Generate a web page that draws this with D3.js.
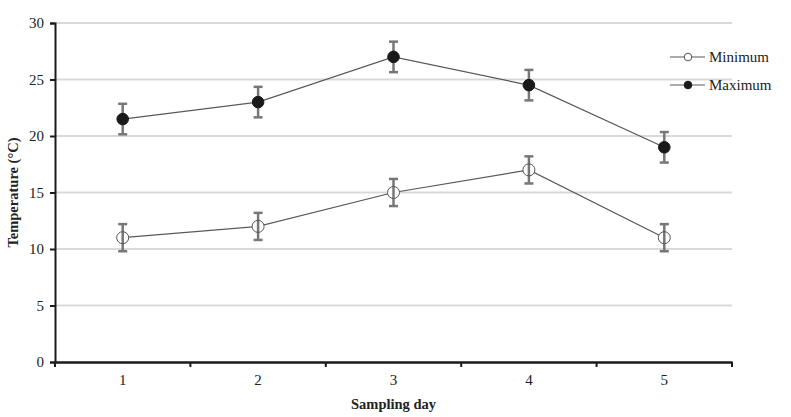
<!DOCTYPE html>
<html><head><meta charset="utf-8">
<script src="https://cdn.jsdelivr.net/npm/d3@7"></script>
<style>body{margin:0;background:#fff}svg{display:block}</style>
</head><body>
<svg id="c" width="791" height="417"></svg>
<script>
const days = ["1","2","3","4","5"];
const minimum = [11, 12, 15, 17, 11];
const minimumErr = [1.2, 1.2, 1.2, 1.2, 1.2];
const maximum = [21.5, 23, 27, 24.5, 19];
const maximumErr = [1.35, 1.35, 1.35, 1.35, 1.35];
const yTicks = [0, 5, 10, 15, 20, 25, 30];
const seriesNames = ["Minimum", "Maximum"];

const svg = d3.select("#c");
const font = "'Liberation Serif','Times New Roman',serif";
const m = {l:55, r:732, t:23, b:362};
const x = d3.scaleBand().domain(days).range([m.l, m.r]);
const y = d3.scaleLinear().domain([0,30]).range([m.b, m.t]);

// grid
svg.append("g").selectAll("line").data(yTicks.filter(d=>d>0)).join("line")
  .attr("x1", m.l).attr("x2", m.r).attr("y1", d=>y(d)).attr("y2", d=>y(d))
  .attr("stroke", "#d9d9d9").attr("stroke-width", 2);

// y axis
const ya = svg.append("g").attr("transform", `translate(${m.l},0)`)
  .call(d3.axisLeft(y).tickValues(yTicks).tickSize(5).tickPadding(6));
ya.select(".domain").attr("stroke","#1a1a1a").attr("stroke-width",2);
ya.selectAll(".tick line").attr("stroke","#1a1a1a").attr("stroke-width",2);
ya.selectAll("text").attr("font-family",font).attr("font-size",15).attr("fill","#222");

// x axis
const xa = svg.append("g").attr("transform", `translate(0,${m.b})`)
  .call(d3.axisBottom(x).tickSize(0).tickPadding(12));
xa.select(".domain").attr("stroke","#1a1a1a").attr("stroke-width",2.5);
xa.selectAll("text").attr("font-family",font).attr("font-size",15).attr("fill","#222");
const bounds = days.map(d=>x(d)).concat([x(days[days.length-1])+x.bandwidth()]);
xa.selectAll("line.b").data(bounds).join("line").attr("class","b")
  .attr("x1",d=>d).attr("x2",d=>d).attr("y1",0).attr("y2",5)
  .attr("stroke","#1a1a1a").attr("stroke-width",2);

const cx = d => x(d) + x.bandwidth()/2;
const series = [
  {vals: minimum, err: minimumErr, open: true},
  {vals: maximum, err: maximumErr, open: false}
];
series.forEach(s => {
  const g = svg.append("g");
  g.append("path").datum(days)
    .attr("d", d3.line().x(d=>cx(d)).y((d,i)=>y(s.vals[i])))
    .attr("fill","none").attr("stroke","#595959").attr("stroke-width",1.2);
  days.forEach((d,i) => {
    const cy = y(s.vals[i]);
    const lo = y(s.vals[i]-s.err[i]), hi = y(s.vals[i]+s.err[i]);
    if (s.open) g.append("circle").attr("cx",cx(d)).attr("cy",cy).attr("r",6).attr("fill","#fff");
    g.append("line").attr("x1",cx(d)).attr("x2",cx(d)).attr("y1",lo).attr("y2",hi)
      .attr("stroke","#777").attr("stroke-width",2.5);
    [lo,hi].forEach(v => g.append("line").attr("x1",cx(d)-4.5).attr("x2",cx(d)+4.5)
      .attr("y1",v).attr("y2",v).attr("stroke","#777").attr("stroke-width",2.5));
    g.append("circle").attr("cx",cx(d)).attr("cy",cy).attr("r",s.open?6:5.8)
      .attr("fill", s.open ? "none" : "#1a1a1a")
      .attr("stroke", s.open ? "#555" : "#1a1a1a").attr("stroke-width",1);
  });
});

// legend
const lg = svg.append("g");
seriesNames.forEach((n,i) => {
  const ly = 57 + i*28;
  lg.append("line").attr("x1",670).attr("x2",705).attr("y1",ly).attr("y2",ly)
    .attr("stroke","#595959").attr("stroke-width",1.2);
  lg.append("circle").attr("cx",688).attr("cy",ly).attr("r",3.8)
    .attr("fill", i===0 ? "#fff" : "#1a1a1a").attr("stroke", i===0?"#555":"#1a1a1a");
  lg.append("text").attr("x",709).attr("y",ly+5).text(n)
    .attr("font-family",font).attr("font-size",15).attr("fill","#222");
});

// titles
svg.append("text").attr("transform",`translate(18,${(m.t+m.b)/2}) rotate(-90)`)
  .attr("text-anchor","middle").attr("font-family",font).attr("font-weight","bold")
  .attr("font-size",14.5).attr("fill","#222").text("Temperature (°C)");
svg.append("text").attr("x",(m.l+m.r)/2).attr("y",409).attr("text-anchor","middle")
  .attr("font-family",font).attr("font-weight","bold").attr("font-size",14.5)
  .attr("fill","#222").text("Sampling day");
</script>
</body></html>
